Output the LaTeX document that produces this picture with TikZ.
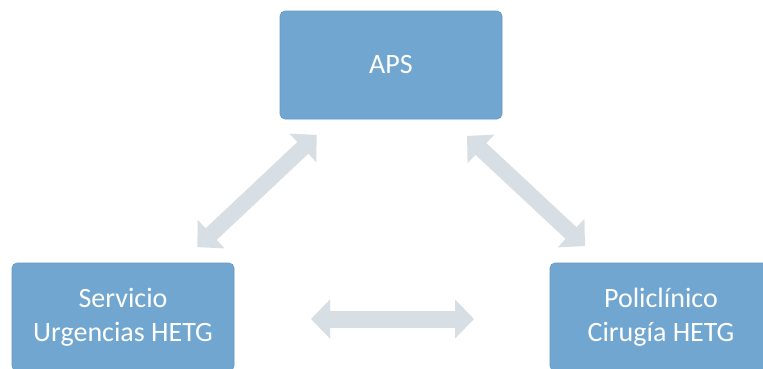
\documentclass[tikz,border=0pt]{standalone}
\usepackage{fontspec}
\setmainfont{Carlito}
\usetikzlibrary{arrows.meta}
\definecolor{boxblue}{HTML}{70A6CF}
\definecolor{boxedge}{HTML}{6399C2}
\definecolor{arrowgray}{HTML}{D7DEE4}
\tikzset{
  unitbox/.style={rectangle, rounded corners=5pt, fill=boxblue, draw=boxedge, line width=0.6pt,
    minimum width=222pt, minimum height=108pt, text=white, align=center,
    font=\fontsize{28}{34}\selectfont, inner sep=0pt},
  dblarrow/.style={draw=arrowgray, line width=16pt,
    {Triangle[length=19pt,width=38pt]}-{Triangle[length=19pt,width=38pt]}}
}
\begin{document}
\begin{tikzpicture}[x=1pt,y=-1pt]
\useasboundingbox (0,0) rectangle (763,368);
\clip (0,0) rectangle (763,368);
\fill[white] (0,0) rectangle (763,368);
\node[unitbox] (aps) at (391,65) {APS};
\node[unitbox] (urg) at (123,317) {Servicio\\Urgencias HETG};
\node[unitbox] (pol) at (661,317) {Policlínico\\Cirugía HETG};
\draw[dblarrow, shorten <=102pt, shorten >=102pt] (urg.center) -- (aps.center);
\draw[dblarrow, shorten <=104pt, shorten >=104pt] (aps.center) -- (pol.center);
\draw[dblarrow, line width=17pt, shorten <=188pt, shorten >=187pt] ([yshift=-2pt]urg.center) -- ([yshift=-2pt]pol.center);
\end{tikzpicture}
\end{document}
